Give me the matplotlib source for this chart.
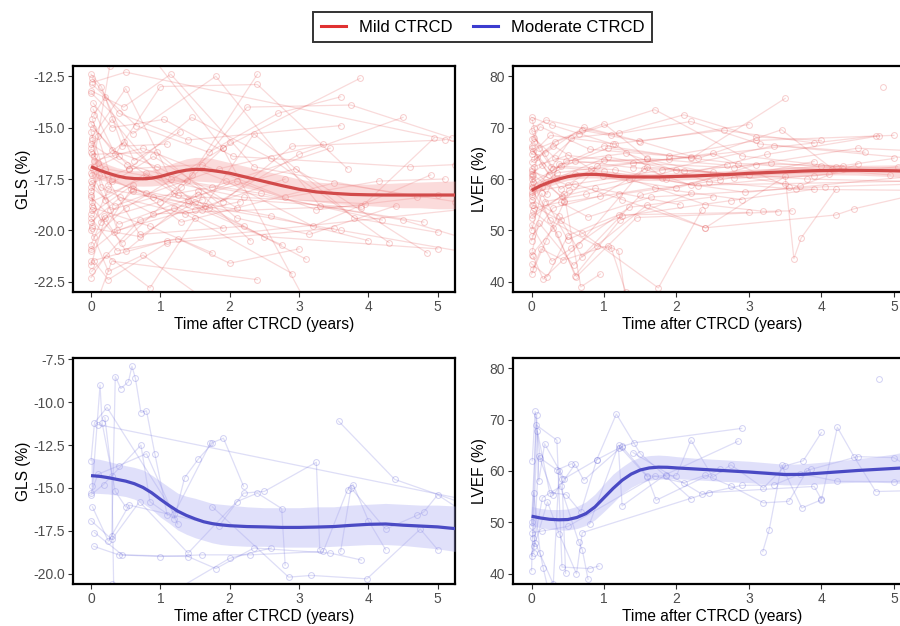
import matplotlib
matplotlib.use("Agg")
import matplotlib.pyplot as plt
from matplotlib.lines import Line2D

plt.rcParams['font.family'] = ['Liberation Sans', 'DejaVu Sans']

# ---------------- data ----------------
# Mild CTRCD, GLS (%) individual trajectories
mild_gls_t = [
    [0, 0.25, 0.9, 2.1], [0.02, 0.4, 1.4, 3.6], [0, 0.15, 0.6, 1.5, 2.8],
    [0.05, 0.5, 1.9, 3.88], [0, 0.3, 1.2, 2.5, 5.0], [0.01, 0.7, 1.6],
    [0.03, 0.35, 1.0, 2.4, 3.7], [0, 0.2, 0.8, 1.7, 3.0, 4.5], [0.02, 0.45, 1.3, 2.0],
    [0, 0.6, 1.8, 3.3, 4.8], [0.04, 0.25, 1.1, 3.5], [0, 0.55, 1.45, 2.6, 4.3],
    [0.01, 0.1, 0.7, 2.2], [0, 0.3, 0.95, 1.9, 2.9, 5.1], [0.03, 0.4, 1.25, 3.9],
    [0, 0.18, 0.5, 1.55, 2.3], [0.02, 0.65, 1.7, 2.7, 3.6], [0, 0.42, 1.35, 2.15],
    [0.05, 0.75, 1.95, 3.2, 4.9], [0, 0.22, 0.85, 1.5], [0.01, 0.5, 1.15, 2.45, 4.2],
    [0, 0.12, 0.38, 1.65, 3.1], [0.03, 0.3, 1.05, 2.05, 4.6, 5.25], [0, 0.58, 1.4, 2.75],
    [0.02, 0.28, 0.9, 1.75, 3.45], [0, 0.48, 1.6, 2.35, 3.8, 5.0], [0.04, 0.2, 0.62, 1.28],
    [0, 0.33, 1.2, 2.9], [0.01, 0.8, 2.2, 3.95, 4.95], [0, 0.15, 0.45, 1.1],
    [0.02, 0.7, 1.5, 2.6, 4.0], [0, 0.35, 1.85, 3.35], [0.03, 0.52, 1.38, 2.25, 3.75, 5.2],
    [0, 0.25, 0.75, 1.7], [0.01, 0.95, 2.1, 3.15, 4.4], [0, 0.4, 1.55, 2.95, 4.85],
    [0.02, 0.1, 0.3, 0.8, 1.9], [0, 0.6, 1.3, 3.5, 5.25], [0.05, 0.27, 0.68],
    [0, 0.2, 1.0, 1.45, 2.4], [0.01, 0.55, 1.6, 2.8, 4.15, 5.1], [0, 0.38, 1.25, 2.0, 3.0],
    [0.02, 0.14, 0.9, 3.9], [0, 0.47, 1.15, 2.35, 4.7], [0.03, 0.85, 1.75],
    [0, 0.3, 0.6, 1.4, 2.1, 3.25, 5.0], [0, 0.2, 4.5, 5.3], [0.02, 0.5, 5.3],
    [0, 1.1, 5.3], [0.01, 0.25, 3.6, 5.3], [0.05, 0.3, 2.4], [0.8, 1.9, 3.1],
]
mild_gls_v = [
    [-15.2, -17.8, -16.4, -18.9], [-12.6, -14.3, -15.6, -14.9], [-18.3, -19.6, -18.1, -19.0, -17.5],
    [-20.3, -18.9, -16.0, -12.6], [-16.0, -14.6, -18.2, -20.3, -20.9], [-22.0, -19.5, -18.5],
    [-14.1, -16.3, -13.0, -12.9, -17.0], [-17.6, -18.5, -17.2, -18.9, -16.3, -14.5], [-19.0, -20.6, -17.9, -15.7],
    [-13.3, -15.3, -12.5, -18.8, -19.6], [-21.5, -22.4, -20.6, -19.9], [-15.8, -17.0, -14.5, -16.5, -20.6],
    [-18.8, -16.7, -20.2, -19.8], [-14.8, -16.1, -16.9, -18.6, -15.9, -15.6], [-17.0, -16.4, -18.3, -18.9],
    [-20.7, -19.3, -21.0, -18.1, -20.5], [-12.9, -14.9, -16.2, -14.3, -13.5], [-19.6, -18.4, -19.2, -18.6],
    [-16.6, -16.0, -17.6, -19.8, -17.3], [-22.3, -21.2, -22.8, -19.4], [-15.5, -13.1, -17.5, -18.2, -19.5],
    [-18.1, -17.3, -20.0, -18.8, -21.4], [-13.8, -15.0, -14.6, -16.4, -16.9, -16.8], [-20.9, -18.0, -18.7, -20.7],
    [-17.3, -19.0, -18.4, -17.9, -16.0], [-16.9, -15.7, -19.0, -15.3, -19.4, -20.1], [-14.4, -13.5, -16.6, -15.2],
    [-21.0, -20.1, -18.9, -22.1], [-18.6, -17.4, -18.4, -18.7, -15.5], [-12.4, -13.0, -15.9, -15.8],
    [-19.9, -20.3, -18.6, -19.3, -20.5], [-17.9, -18.8, -17.0, -15.8], [-15.0, -16.8, -17.6, -14.0, -13.9, -15.5],
    [-20.0, -22.0, -21.2, -23.5], [-16.3, -16.2, -19.4, -20.2, -18.8], [-18.4, -19.7, -18.3, -17.0, -21.1],
    [-14.6, -15.4, -17.6, -18.2, -19.9], [-19.2, -17.8, -19.6, -17.7, -18.6], [-16.4, -12.0, -11.5],
    [-21.7, -19.4, -18.6, -17.3, -12.4], [-17.7, -17.0, -16.8, -18.4, -17.6, -17.5], [-19.4, -21.0, -20.4, -21.6, -20.9],
    [-15.6, -17.9, -19.2, -18.8], [-13.2, -14.0, -12.4, -16.9, -18.4], [-18.9, -19.8, -21.1],
    [-17.2, -17.5, -18.0, -18.5, -17.6, -19.0, -18.3], [-16.2, -17.0, -19.5, -20.3], [-12.8, -12.3, -15.7],
    [-21.5, -20.5, -19.0], [-19.8, -18.0, -20.0, -21.0], [-23.8, -21.5, -22.4], [-11.2, -16.0, -23.5],
]

# Mild CTRCD, LVEF (%) individual trajectories
mild_ef_t = [
    [0, 0.3, 1.0, 2.2, 3.5], [0.02, 0.15, 0.6, 1.8, 4.0, 5.25], [0, 0.4, 1.2, 2.6, 3.9],
    [0.01, 0.1, 0.7, 1.5, 3.0], [0, 0.25, 0.9, 1.1, 1.3], [0.03, 0.5, 1.4, 2.8, 4.5, 5.25],
    [0, 0.2, 0.45, 1.7, 2.9], [0.02, 0.35, 1.05, 2.1, 3.3, 4.3],
    [0, 0.6, 1.25, 2.4, 3.5, 3.62, 3.72, 4.2], [0.01, 0.12, 0.8, 1.9, 3.1, 5.0],
    [0, 0.28, 0.55, 1.35, 2.5], [0.02, 0.4, 1.15, 2.3, 4.1], [0, 0.18, 0.75, 2.0, 3.8, 5.25],
    [0.04, 0.33, 1.0, 1.6, 2.7], [0, 0.22, 0.5, 1.2, 3.0], [0.01, 0.65, 1.7, 2.9, 4.2, 5.0],
    [0, 0.15, 0.4, 0.9, 2.2], [0.02, 0.3, 0.62, 1.45, 3.4], [0, 0.48, 1.3, 2.45, 3.65, 5.25],
    [0.03, 0.2, 1.1, 2.2, 3.15, 4.6], [0, 0.38, 0.7, 1.6, 2.4, 4.2, 4.45, 5.25],
    [0.01, 0.1, 0.58, 1.5, 2.6], [0, 0.26, 1.15, 1.85, 3.25, 4.8], [0.02, 0.42, 0.88, 2.05],
    [0, 0.14, 0.5, 1.25, 2.75, 3.9], [0.03, 0.33, 1.4, 3.0, 5.25], [0, 0.7, 1.75, 2.35],
    [0.01, 0.2, 0.45, 1.0, 1.9, 4.75], [0, 0.35, 0.82, 2.5, 3.55],
    [0.02, 0.16, 0.65, 1.55, 2.2, 3.5, 5.25], [0, 0.28, 1.12, 2.65, 3.9],
    [0.01, 0.52, 1.35, 2.4, 3.2, 3.6], [0, 0.08, 0.3, 0.98, 2.0, 3.1, 4.95],
    [0.03, 0.4, 0.78, 1.65, 4.05, 5.25], [0, 0.24, 0.6, 1.05, 2.85, 4.3],
    [0.02, 0.13, 0.44, 1.05, 1.2, 1.3], [0, 0.5, 1.8, 3.35, 5.25],
    [0.01, 0.3, 0.95, 1.6, 2.5, 3.7, 4.5], [0, 0.18, 0.72, 1.48, 2.3, 3.45, 4.15],
    [4.85], [0, 0.36, 0.6, 1.22, 2.2], [0.03, 0.27, 1.0, 2.95, 5.25], [0, 0.45, 0.68, 0.95],
    [0.01, 0.55, 1.2, 2.1, 3.1, 4.0], [0, 0.21, 0.38, 1.6, 2.8, 3.9, 5.05],
]
mild_ef_v = [
    [69.3, 62.0, 66.5, 64.0, 75.7], [55.0, 58.5, 61.0, 60.2, 62.5, 62.0], [45.2, 52.1, 57.0, 59.8, 63.4],
    [71.5, 66.0, 69.5, 67.3, 70.6], [60.0, 52.0, 47.0, 46.5, 38.0], [62.4, 64.6, 63.1, 62.2, 66.0, 65.5],
    [41.5, 48.0, 55.5, 58.3, 56.0], [65.5, 60.2, 64.3, 61.5, 63.2, 62.0],
    [57.5, 59.0, 56.0, 50.5, 60.5, 44.5, 48.5, 58.0], [67.8, 70.2, 65.8, 64.5, 67.5, 68.5],
    [51.0, 44.0, 46.5, 54.5, 56.5], [59.5, 62.5, 61.8, 58.6, 61.0], [48.0, 55.6, 57.0, 61.8, 60.0, 59.5],
    [63.8, 67.2, 70.8, 64.0, 62.7], [43.5, 41.0, 49.0, 53.0, 53.5], [61.0, 68.8, 73.5, 64.5, 62.4, 64.0],
    [66.5, 62.8, 58.0, 62.5, 64.2], [53.8, 50.5, 41.0, 52.5, 53.6], [58.5, 63.5, 65.0, 59.4, 58.0, 57.8],
    [70.0, 71.5, 68.6, 71.2, 66.8, 65.2], [56.0, 52.8, 44.8, 55.0, 50.5, 53.0, 54.2, 56.8],
    [46.0, 51.5, 43.2, 56.8, 60.6], [64.8, 68.5, 66.8, 60.0, 64.8, 68.4], [60.8, 56.6, 58.2, 55.0],
    [50.0, 57.2, 48.2, 52.8, 55.8, 58.0], [68.0, 64.0, 62.2, 60.8, 61.8], [55.0, 49.5, 38.8, 54.0],
    [62.0, 59.5, 55.8, 63.7, 63.8, 68.4], [57.0, 61.2, 62.0, 65.0, 58.4],
    [45.0, 40.5, 47.2, 62.0, 58.8, 59.1, 59.6], [72.0, 70.5, 66.8, 69.5, 67.0],
    [52.5, 57.8, 60.0, 55.0, 53.7, 53.8], [59.0, 64.2, 66.5, 60.5, 58.2, 62.8, 60.8],
    [54.3, 55.5, 52.6, 56.5, 58.5, 59.0], [66.0, 60.8, 63.5, 66.0, 63.0, 62.6],
    [42.5, 46.4, 44.2, 47.0, 46.0, 36.5], [61.5, 58.8, 61.7, 66.5, 64.0],
    [48.9, 54.4, 56.7, 62.3, 61.4, 58.6, 62.9], [63.3, 65.0, 70.1, 67.4, 64.0, 69.6, 62.0],
    [78.0], [58.2, 49.2, 41.2, 52.0, 57.2], [67.3, 62.4, 61.5, 57.4, 60.5], [53.0, 57.0, 39.0, 41.5],
    [56.7, 68.0, 69.0, 72.5, 68.2, 67.5], [60.5, 57.0, 63.0, 63.8, 60.2, 60.6, 62.4],
]

# Moderate CTRCD, GLS (%) individual trajectories
mod_gls_t = [
    [0.02, 0.13, 0.16, 0.35, 0.5], [0.0, 0.05, 0.23, 1.2, 1.72, 1.91, 2.2],
    [0.3, 0.35, 0.43, 0.54, 0.59, 0.64, 0.72, 0.8, 0.92, 1.1], [0.1, 5.3], [3.57, 4.38, 5.3],
    [0.0, 0.3, 0.7, 1.4, 2.1, 2.4, 2.75, 2.8], [0.04, 0.4, 1.0, 1.6, 2.3, 3.35, 3.7, 3.78, 4.0, 4.25],
    [0.0, 0.18, 0.72, 0.85, 1.2, 1.35, 1.55, 1.75], [0.02, 0.25, 0.55, 1.85, 2.2, 2.5, 3.25, 3.3],
    [0.05, 0.45, 1.4, 1.8, 2.35, 3.45, 3.9], [1.75, 2.85, 3.18, 3.98, 4.75, 5.0],
    [0.0, 0.1, 0.4, 0.8, 1.25], [3.6, 3.75, 4.25, 4.7, 4.8, 5.0, 5.3],
    [0.08, 0.3, 1.2, 2.0, 2.6], [0.2, 0.3, 0.33],
]
mod_gls_v = [
    [-14.9, -9.0, -11.2, -15.2, -16.1], [-13.4, -11.2, -10.3, -16.5, -12.4, -12.1, -14.9],
    [-17.8, -8.5, -9.2, -8.8, -7.9, -8.6, -10.6, -10.5, -13.0, -16.6], [-11.3, -15.6], [-11.1, -14.5, -15.8],
    [-16.9, -18.0, -15.8, -18.8, -15.8, -15.3, -16.2, -19.5],
    [-18.4, -18.9, -19.0, -18.9, -18.9, -18.7, -15.1, -14.8, -16.9, -18.6],
    [-15.4, -14.8, -12.5, -15.8, -16.8, -14.4, -13.3, -12.4], [-16.1, -18.1, -16.0, -17.2, -15.3, -15.2, -13.5, -18.6],
    [-17.6, -18.9, -19.0, -19.7, -18.5, -18.8, -19.2], [-16.1, -20.2, -20.1, -20.3, -17.4, -18.6],
    [-15.3, -14.2, -13.7, -13.0, -17.1], [-18.7, -15.0, -17.4, -16.6, -16.4, -15.4, -16.2],
    [-21.5, -20.6, -21.0, -19.1, -18.5], [-10.9, -14.3, -21.5],
]

# Moderate CTRCD, LVEF (%) individual trajectories
mod_ef_t = [
    [0.01, 0.05, 0.12, 0.35, 0.55], [0.0, 0.07, 0.1, 0.18, 0.45, 0.9, 1.17, 1.5, 1.85, 2.2],
    [0.03, 0.1, 0.3, 0.6, 0.72, 1.25, 1.42, 2.9], [0.0, 0.15, 0.4, 0.65, 0.7, 0.78],
    [0.02, 0.08, 0.25, 0.48, 0.68, 0.9, 1.2, 1.25, 1.85, 2.85], [0.0, 0.06, 0.35, 0.42, 0.8, 0.93],
    [0.04, 0.22, 0.38, 0.62, 0.7, 2.45, 3.9, 4.0],
    [0.01, 0.14, 0.5, 1.7, 2.1, 2.4, 2.75, 3.2, 3.55, 3.8],
    [3.19, 3.28, 3.45, 3.73, 4.0, 4.22, 4.45, 4.75, 5.3],
    [1.25, 1.6, 2.0, 2.2, 2.5, 2.75, 3.2, 3.5, 3.75, 4.0],
    [0.8, 1.2, 1.6, 1.72, 2.6, 3.7, 4.22, 5.0, 5.3], [4.79],
    [1.4, 2.35, 2.9, 3.35, 3.85, 4.5, 5.0, 5.3], [0.05, 0.3, 0.38, 0.42, 0.47],
    [0.0, 0.03, 0.12, 0.16, 0.22],
]
mod_ef_v = [
    [62.0, 71.6, 62.5, 60.2, 61.4], [50.0, 70.9, 58.0, 65.3, 58.5, 62.2, 71.1, 63.4, 59.0, 54.6],
    [44.0, 63.0, 55.3, 61.3, 58.2, 64.8, 65.5, 68.3], [43.4, 54.8, 57.0, 46.2, 44.7, 38.9],
    [47.0, 67.8, 55.8, 55.4, 52.0, 62.2, 64.4, 53.2, 59.3, 65.8], [40.6, 69.0, 66.0, 41.3, 41.0, 41.5],
    [45.4, 54.0, 47.8, 40.0, 48.0, 55.8, 57.0, 54.5],
    [48.0, 48.3, 49.2, 59.0, 57.7, 59.2, 57.1, 53.8, 54.1, 60.0],
    [44.3, 48.6, 61.1, 52.8, 54.4, 68.5, 62.8, 56.0, 56.2],
    [64.7, 59.0, 59.1, 66.0, 58.8, 61.2, 56.7, 61.0, 62.0, 67.5],
    [49.7, 65.0, 58.8, 54.3, 60.3, 59.5, 58.0, 57.9, 58.5], [78.0],
    [63.6, 55.5, 57.2, 57.3, 60.3, 62.8, 62.6, 60.0], [46.0, 38.0, 60.0, 58.5, 40.1],
    [49.3, 55.8, 44.0, 41.2, 37.5],
]

# Smoothed group trends with confidence bands
smooth_t = [0, 0.125, 0.25, 0.375, 0.5, 0.625, 0.75, 0.875, 1.0, 1.125, 1.25, 1.375, 1.5,
            1.625, 1.75, 1.875, 2.0, 2.25, 2.5, 2.75, 3.0, 3.25, 3.5, 3.75, 4.0, 4.25,
            4.5, 4.75, 5.0, 5.25]
mild_gls_fit = [-16.9, -17.08, -17.22, -17.35, -17.44, -17.48, -17.49, -17.46, -17.38, -17.26,
                -17.15, -17.07, -17.03, -17.04, -17.09, -17.15, -17.22,
                -17.42, -17.62, -17.82, -18.0, -18.13, -18.2, -18.25, -18.27, -18.28,
                -18.28, -18.28, -18.28, -18.28]
mild_gls_lo = [-17.45, -17.55, -17.62, -17.72, -17.8, -17.84, -17.85, -17.84, -17.8, -17.72,
               -17.65, -17.6, -17.6, -17.62, -17.65, -17.7, -17.75,
               -17.95, -18.15, -18.35, -18.5, -18.6, -18.7, -18.75, -18.8, -18.85,
               -18.9, -18.9, -18.95, -18.95]
mild_gls_hi = [-16.35, -16.6, -16.8, -16.95, -17.05, -17.1, -17.1, -17.06, -16.95, -16.8,
               -16.65, -16.52, -16.45, -16.45, -16.5, -16.6, -16.7,
               -16.9, -17.1, -17.3, -17.5, -17.65, -17.7, -17.75, -17.75, -17.72,
               -17.68, -17.65, -17.62, -17.6]
mild_ef_fit = [57.8, 58.7, 59.4, 60.0, 60.45, 60.75, 60.9, 60.9, 60.8, 60.6,
               60.45, 60.4, 60.4, 60.4, 60.4, 60.45, 60.5,
               60.6, 60.75, 60.9, 61.1, 61.25, 61.4, 61.55, 61.65, 61.7,
               61.7, 61.65, 61.6, 61.5]
mild_ef_lo = [56.7, 57.7, 58.6, 59.2, 59.75, 60.05, 60.2, 60.2, 60.1, 59.95,
              59.8, 59.72, 59.7, 59.7, 59.7, 59.75, 59.8,
              59.9, 60.0, 60.15, 60.3, 60.45, 60.6, 60.7, 60.8, 60.8,
              60.75, 60.6, 60.45, 60.2]
mild_ef_hi = [58.9, 59.7, 60.2, 60.8, 61.15, 61.45, 61.6, 61.6, 61.5, 61.3,
              61.15, 61.1, 61.1, 61.1, 61.1, 61.15, 61.2,
              61.3, 61.5, 61.65, 61.9, 62.05, 62.2, 62.4, 62.5, 62.6,
              62.65, 62.7, 62.75, 62.8]
mod_gls_fit = [-14.28, -14.32, -14.4, -14.5, -14.6, -14.75, -14.97, -15.28, -15.66, -16.02,
               -16.35, -16.6, -16.8, -16.97, -17.08, -17.15, -17.2,
               -17.25, -17.27, -17.3, -17.3, -17.28, -17.25, -17.18, -17.12, -17.1,
               -17.17, -17.22, -17.27, -17.37]
mod_gls_lo = [-15.3, -15.32, -15.35, -15.42, -15.5, -15.65, -15.9, -16.25, -16.7, -17.05,
              -17.45, -17.7, -17.9, -18.05, -18.2, -18.3, -18.35,
              -18.4, -18.4, -18.45, -18.45, -18.45, -18.4, -18.35, -18.3, -18.3,
              -18.35, -18.45, -18.55, -18.7]
mod_gls_hi = [-13.25, -13.33, -13.45, -13.58, -13.7, -13.8, -13.95, -14.25, -14.6, -14.95,
              -15.3, -15.48, -15.6, -15.75, -15.9, -15.95, -16.0,
              -16.1, -16.15, -16.15, -16.15, -16.1, -16.1, -16.0, -15.95, -15.9,
              -15.95, -16.0, -16.0, -16.05]
mod_ef_fit = [51.2, 50.85, 50.6, 50.5, 50.55, 50.95, 51.7, 53.0, 54.8, 56.6,
              58.2, 59.4, 60.2, 60.6, 60.75, 60.72, 60.6,
              60.4, 60.2, 60.0, 59.8, 59.55, 59.3, 59.35, 59.6, 59.85,
              60.1, 60.3, 60.5, 60.7]
mod_ef_lo = [49.3, 49.0, 48.7, 48.5, 48.5, 48.8, 49.4, 50.5, 52.1, 53.8,
             55.6, 56.8, 57.7, 58.2, 58.4, 58.5, 58.5,
             58.3, 58.1, 57.9, 57.7, 57.5, 57.3, 57.3, 57.5, 57.7,
             57.8, 57.8, 57.7, 57.4]
mod_ef_hi = [53.1, 52.7, 52.5, 52.5, 52.6, 53.1, 54.0, 55.5, 57.5, 59.4,
             60.8, 62.0, 62.7, 63.0, 63.1, 63.0, 62.8,
             62.5, 62.3, 62.1, 61.9, 61.6, 61.3, 61.4, 61.7, 62.0,
             62.4, 62.8, 63.3, 64.0]

group_labels = ['Mild CTRCD', 'Moderate CTRCD']
x_ticks = [0, 1, 2, 3, 4, 5]
gls_ticks_top = [-22.5, -20.0, -17.5, -15.0, -12.5]
gls_ticks_bot = [-20.0, -17.5, -15.0, -12.5, -10.0, -7.5]
ef_ticks = [40, 50, 60, 70, 80]

# ---------------- styling ----------------
RED_IND = '#E24A4A'
BLUE_IND = '#5A5AD6'
RED_FIT = '#D24B4B'
BLUE_FIT = '#4A4AC4'
RED_BAND = '#F59A9A'
BLUE_BAND = '#A8A8F2'
RED_LEG = '#E03131'
BLUE_LEG = '#3C3CCF'

fig = plt.figure(figsize=(9, 6.26), dpi=100)

W = 900.0
H = 626.0
def add_ax(left, top, right, bottom):
    return fig.add_axes([left / W, 1 - bottom / H, (right - left) / W, (bottom - top) / H])

ax_tl = add_ax(73, 66, 455, 292)
ax_tr = add_ax(512.7, 66, 912, 292)
ax_bl = add_ax(73, 358, 455, 584)
ax_br = add_ax(512.7, 358, 912, 584)


def draw(ax, ts, vs, ind_col, fit, lo, hi, fit_col, band_col, ylim, yticks, ylabel, fmt):
    for t, v in zip(ts, vs):
        ax.plot(t, v, color=ind_col, alpha=0.2, lw=0.9, zorder=2)
        ax.plot(t, v, linestyle='none', marker='o', ms=4.2, mfc='none',
                mec=ind_col, mew=0.7, alpha=0.28, zorder=2)
    ax.fill_between(smooth_t, lo, hi, color=band_col, alpha=0.35, lw=0, zorder=3)
    ax.plot(smooth_t, fit, color=fit_col, lw=2.3, zorder=4, solid_capstyle='butt',
            solid_joinstyle='round')
    ax.set_xlim(-0.26, 5.25)
    ax.set_ylim(*ylim)
    ax.set_xticks(x_ticks)
    ax.set_xticklabels([str(x) for x in x_ticks])
    ax.set_yticks(yticks)
    ax.set_yticklabels([fmt.format(y) for y in yticks])
    ax.tick_params(axis='both', labelsize=10, labelcolor='#4D4D4D', color='#333333',
                   length=3.5, width=0.8, pad=2)
    for s in ax.spines.values():
        s.set_linewidth(1.6)
        s.set_color('black')
    ax.set_xlabel('Time after CTRCD (years)', fontsize=11.2, labelpad=2.5)
    ax.set_ylabel(ylabel, fontsize=11.2, labelpad=2)


draw(ax_tl, mild_gls_t, mild_gls_v, RED_IND, mild_gls_fit, mild_gls_lo, mild_gls_hi,
     RED_FIT, RED_BAND, (-23.0, -12.0), gls_ticks_top, 'GLS (%)', '{:.1f}')
draw(ax_tr, mild_ef_t, mild_ef_v, RED_IND, mild_ef_fit, mild_ef_lo, mild_ef_hi,
     RED_FIT, RED_BAND, (38.0, 82.0), ef_ticks, 'LVEF (%)', '{:.0f}')
draw(ax_bl, mod_gls_t, mod_gls_v, BLUE_IND, mod_gls_fit, mod_gls_lo, mod_gls_hi,
     BLUE_FIT, BLUE_BAND, (-20.6, -7.42), gls_ticks_bot, 'GLS (%)', '{:.1f}')
draw(ax_br, mod_ef_t, mod_ef_v, BLUE_IND, mod_ef_fit, mod_ef_lo, mod_ef_hi,
     BLUE_FIT, BLUE_BAND, (38.0, 82.0), ef_ticks, 'LVEF (%)', '{:.0f}')

handles = [Line2D([], [], color=RED_LEG, lw=2.2), Line2D([], [], color=BLUE_LEG, lw=2.2)]
leg = fig.legend(handles, group_labels, loc='center', bbox_to_anchor=(482.5 / W, 1 - 27 / H),
                 ncol=2, frameon=True, fancybox=False, fontsize=12, handlelength=1.5,
                 handletextpad=0.8, columnspacing=1.2, borderpad=0.45)
leg.get_frame().set_edgecolor('black')
leg.get_frame().set_linewidth(1.4)

fig.savefig('out.png', dpi=100, facecolor='white')
